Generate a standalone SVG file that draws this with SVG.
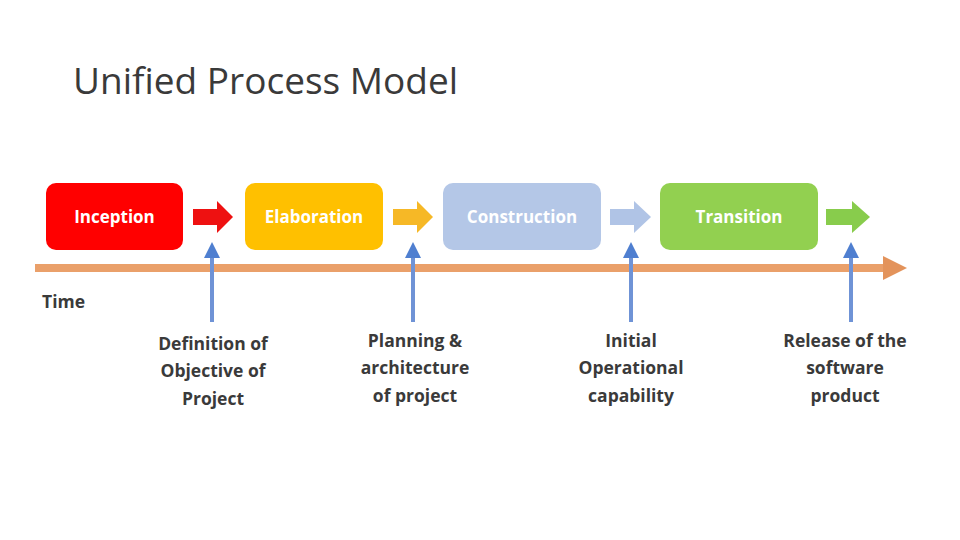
<svg xmlns="http://www.w3.org/2000/svg" width="960" height="540" viewBox="0 0 960 540">
<defs>
<style>
.title{font-family:"Open Sans","Liberation Sans",sans-serif;font-size:37px;fill:#3a3a3a}
.box text{font-family:"Open Sans","Liberation Sans",sans-serif;font-size:17px;font-weight:bold;fill:#ffffff;text-anchor:middle}
.lbl{font-family:"Open Sans","Liberation Sans",sans-serif;font-size:17.5px;font-weight:bold;fill:#3a3a3a;text-anchor:middle}
.ms{stroke:#6f93d6;stroke-width:4;fill:none}
</style>
<marker id="up" markerWidth="4" markerHeight="4" refX="2" refY="2" orient="auto" markerUnits="strokeWidth">
<path d="M0,0 L4,2 L0,4 Z" fill="#4f7fd0"/>
</marker>
<marker id="tl" markerWidth="3" markerHeight="3" refX="1.5" refY="1.5" orient="auto" markerUnits="strokeWidth">
<path d="M0,0 L3,1.5 L0,3 Z" fill="#e3935b"/>
</marker>
</defs>
<rect width="960" height="540" fill="#ffffff"/>
<text class="title" x="73" y="94">Unified Process Model</text>

<g id="connectors">
<line x1="35" y1="268" x2="895" y2="268" stroke="#eaa06a" stroke-width="8" marker-end="url(#tl)"/>
<path d="M193,209 H217 V201 L233,217 L217,233 V225 H193 Z" fill="#ee1111"/>
<path d="M393,209 H417 V201 L433,217 L417,233 V225 H393 Z" fill="#f6b826"/>
<path d="M610,209 H634 V201 L651,217 L634,233 V225 H610 Z" fill="#b0c4e6"/>
<path d="M826,209 H852 V201 L870,217 L852,233 V225 H826 Z" fill="#88cc4c"/>
<line class="ms" x1="212" y1="322" x2="212" y2="250" marker-end="url(#up)"/>
<line class="ms" x1="413" y1="322" x2="413" y2="250" marker-end="url(#up)"/>
<line class="ms" x1="631" y1="322" x2="631" y2="250" marker-end="url(#up)"/>
<line class="ms" x1="851" y1="322" x2="851" y2="250" marker-end="url(#up)"/>
</g>

<g id="inception" class="box">
<rect x="46" y="183" width="137" height="67" rx="10" fill="#ff0000"/>
<text x="114.5" y="223">Inception</text>
</g>
<g id="elaboration" class="box">
<rect x="245" y="183" width="138" height="67" rx="10" fill="#ffc000"/>
<text x="314" y="223">Elaboration</text>
</g>
<g id="construction" class="box">
<rect x="443" y="183" width="158" height="67" rx="10" fill="#b4c7e7"/>
<text x="522" y="223">Construction</text>
</g>
<g id="transition" class="box">
<rect x="660" y="183" width="158" height="67" rx="10" fill="#92d050"/>
<text x="739" y="223">Transition</text>
</g>

<g id="time">
<text class="lbl" x="42" y="308" style="text-anchor:start">Time</text>
</g>
<g id="m1">
<text class="lbl" x="213" y="350">Definition of</text>
<text class="lbl" x="213" y="377">Objective of</text>
<text class="lbl" x="213" y="405">Project</text>
</g>
<g id="m2">
<text class="lbl" x="415" y="347">Planning &amp;</text>
<text class="lbl" x="415" y="374">architecture</text>
<text class="lbl" x="415" y="402">of project</text>
</g>
<g id="m3">
<text class="lbl" x="631" y="347">Initial</text>
<text class="lbl" x="631" y="374">Operational</text>
<text class="lbl" x="631" y="402">capability</text>
</g>
<g id="m4">
<text class="lbl" x="845" y="347">Release of the</text>
<text class="lbl" x="845" y="374">software</text>
<text class="lbl" x="845" y="402">product</text>
</g>
</svg>
